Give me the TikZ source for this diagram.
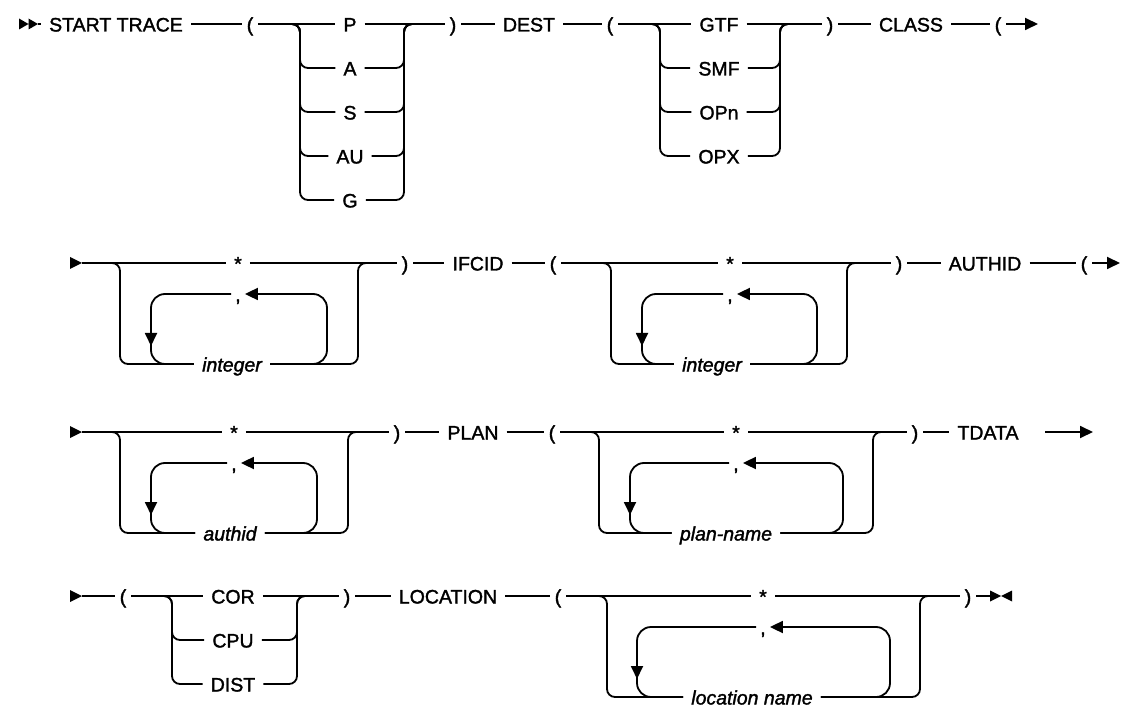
\documentclass[tikz,border=0pt]{standalone}
\usepackage{fontspec}
\setmainfont{Liberation Sans}[FakeBold=1.6]
\usepackage{tikz}
\usetikzlibrary{arrows.meta}

\begin{document}
\begin{tikzpicture}[x=1pt,y=-1pt]
  \tikzstyle{every node}=[inner xsep=8pt,inner ysep=0pt,text height=15pt,text depth=0pt,font=\fontsize{19.5}{23}\selectfont]
  \tikzstyle{var}=[font=\fontsize{19.5}{23}\selectfont\itshape]
  \tikzstyle{paren}=[inner xsep=5pt]
  \tikzstyle{comma}=[inner xsep=4pt]
  \tikzstyle{rail}=[line width=1.8pt,rounded corners=8pt]
  \tikzstyle{loopline}=[rail,rounded corners=14pt]
  \tikzstyle{arrowed}=[-{Triangle[length=13pt,width=12pt]}]
  \useasboundingbox (0,0) rectangle (1124,708);

  \fill (19,18.5) -- (28.5,24) -- (19,29.5) -- cycle (28.5,18.5) -- (38,24) -- (28.5,29.5) -- cycle;
  \foreach \y in {263,432,596}
    \fill (70,\y-6) -- (82,\y) -- (70,\y+6) -- cycle;
  \fill (990,590.5) -- (1001,596) -- (990,601.5) -- cycle (1012,590.5) -- (1001,596) -- (1012,601.5) -- cycle;

  \coordinate (r1) at (38,24);
  \node (trace) at (116,24) {START TRACE};
  \node[paren] (lp1) at (250,24) {(};
  \node[paren] (rp1) at (453,24) {)};
  \node (dest) at (529,24) {DEST};
  \node[paren] (lp2) at (610,24) {(};
  \node[paren] (rp2) at (830,24) {)};
  \node (class) at (911,24) {CLASS};
  \node[paren] (lp3) at (998,24) {(};
  \coordinate (e1) at (1038,24);
  \coordinate (b1l) at (300,24);
  \coordinate (b1r) at (404,24);
  \coordinate (b2l) at (660,24);
  \coordinate (b2r) at (780,24);
  \foreach \n/\y in {P/24,A/68,S/112,AU/156,G/200}
    \node (\n) at (350,\y) {\n};
  \foreach \n/\y in {GTF/24,SMF/68,OPn/112,OPX/156}
    \node (\n) at (719,\y) {\n};

  \foreach \g/\y/\xl/\xr/\xa/\xb/\xm/\xv/\txt in {
      c/263/120/358/151/327/238/232/integer,
      i/263/611/847/642/817/730/712/integer,
      u/432/120/348/151/317/234/230/authid,
      p/432/599/873/630/843/736/726/plan-name,
      n/596/607/920/637/890/763/752/location name}{
    \node (star\g) at (\xm,\y) {*};
    \node[comma] (sep\g) at (\xm,\y+31) {,};
    \node[var] (var\g) at (\xv,\y+101) {\txt};
    \coordinate (L\g) at (\xl,\y);
    \coordinate (R\g) at (\xr,\y);
    \coordinate (A\g) at (\xa,\y+31);
    \coordinate (B\g) at (\xb,\y+31);
    \draw[rail] ([xshift=-10]L\g) -- (L\g) -- (L\g |- var\g) -- (var\g) -- (R\g |- var\g) -- (R\g) -- ([xshift=10]R\g);
    \draw[loopline,arrowed] (var\g) -- (B\g |- var\g) -- (B\g) -- (sep\g);
    \draw[loopline,arrowed] (sep\g) -- (A\g) -- ([yshift=-52]A\g);
    \draw[loopline] ([yshift=-46]A\g) -- (A\g |- var\g) -- (var\g);
  }

  \draw[rail] (r1) -- (trace) -- (lp1) -- (P) -- (rp1) -- (dest) -- (lp2) -- (GTF) -- (rp2) -- (class) -- (lp3);
  \draw[rail,arrowed] (lp3) -- (e1);
  \foreach \n in {A,S,AU,G}
    \draw[rail] (lp1) -- (b1l) -- (b1l |- \n) -- (\n) -- (b1r |- \n) -- (b1r) -- (rp1);
  \foreach \n in {SMF,OPn,OPX}
    \draw[rail] (lp2) -- (b2l) -- (b2l |- \n) -- (\n) -- (b2r |- \n) -- (b2r) -- (rp2);

  \coordinate (r2) at (82,263);
  \node[paren] (rpc) at (405,263) {)};
  \node (ifcid) at (478,263) {IFCID};
  \node[paren] (lpi) at (553,263) {(};
  \node[paren] (rpi) at (899,263) {)};
  \node (authid) at (985,263) {AUTHID};
  \node[paren] (lpa) at (1084,263) {(};
  \coordinate (e2) at (1120,263);
  \draw[rail] (r2) -- (starc) -- (rpc) -- (ifcid) -- (lpi) -- (stari) -- (rpi) -- (authid) -- (lpa);
  \draw[rail,arrowed] (lpa) -- (e2);

  \coordinate (r3) at (82,432);
  \node[paren] (rpu) at (397,432) {)};
  \node (plan) at (473,432) {PLAN};
  \node[paren] (lpp) at (552,432) {(};
  \node[paren] (rpp) at (915,432) {)};
  \node (tdata) at (988,432) {TDATA};
  \coordinate (t3) at (1045,432);
  \coordinate (e3) at (1093,432);
  \draw[rail] (r3) -- (staru) -- (rpu) -- (plan) -- (lpp) -- (starp) -- (rpp) -- (tdata);
  \draw[rail,arrowed] (t3) -- (e3);

  \coordinate (r4) at (82,596);
  \coordinate (b4l) at (172,596);
  \coordinate (b4r) at (297,596);
  \node[paren] (lpo) at (123,596) {(};
  \foreach \n/\y in {COR/596,CPU/640,DIST/684}
    \node (\n) at (233,\y) {\n};
  \node[paren] (rpo) at (347,596) {)};
  \node (location) at (448,596) {LOCATION};
  \node[paren] (lpn) at (558,596) {(};
  \node[paren] (rpn) at (968,596) {)};
  \coordinate (fin) at (990,596);
  \draw[rail] (r4) -- (lpo) -- (COR) -- (rpo) -- (location) -- (lpn) -- (starn) -- (rpn) -- (fin);
  \foreach \n in {CPU,DIST}
    \draw[rail] (lpo) -- (b4l) -- (b4l |- \n) -- (\n) -- (b4r |- \n) -- (b4r) -- (rpo);
\end{tikzpicture}
\end{document}
